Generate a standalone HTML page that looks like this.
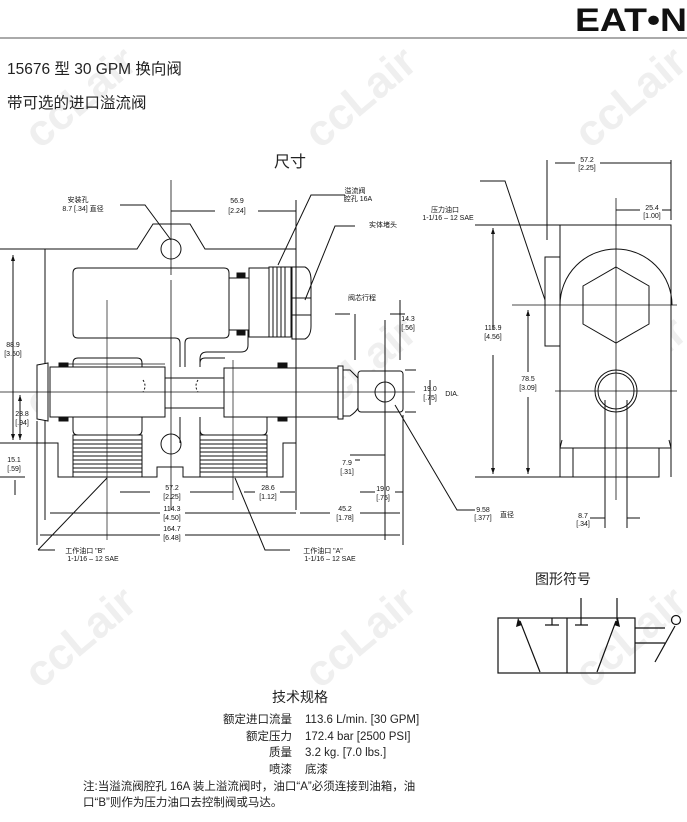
<!DOCTYPE html>
<html><head><meta charset="utf-8"><style>
html,body{margin:0;padding:0;background:#fff;}
svg{display:block;}
.t{font-family:"Liberation Sans","Noto Sans CJK SC",sans-serif;}
</style></head><body>
<svg width="687" height="822" viewBox="0 0 687 822" xmlns="http://www.w3.org/2000/svg" class="t">
<!-- watermarks -->
<g fill="#efefef" font-weight="bold" font-size="44" font-family="Liberation Sans, sans-serif">
<text transform="translate(40,150) rotate(-40)">ccLair</text>
<text transform="translate(320,150) rotate(-40)">ccLair</text>
<text transform="translate(590,150) rotate(-40)">ccLair</text>
<text transform="translate(40,420) rotate(-40)">ccLair</text>
<text transform="translate(320,420) rotate(-40)">ccLair</text>
<text transform="translate(590,420) rotate(-40)">ccLair</text>
<text transform="translate(40,690) rotate(-40)">ccLair</text>
<text transform="translate(320,690) rotate(-40)">ccLair</text>
<text transform="translate(590,690) rotate(-40)">ccLair</text>
</g>
<!-- header -->
<text x="575" y="31" font-size="32" font-weight="bold" textLength="112" lengthAdjust="spacingAndGlyphs" fill="#111">EAT•N</text>
<line x1="0" y1="38" x2="687" y2="38" stroke="#777" stroke-width="1.2"/>
<text x="7" y="74" font-size="15.5" fill="#222">15676 型 30 GPM 换向阀</text>
<text x="7" y="108" font-size="15.5" fill="#222">带可选的进口溢流阀</text>
<text x="290" y="167" font-size="16" text-anchor="middle" fill="#222">尺寸</text>

<g stroke="#111" stroke-width="1" fill="none">
<!-- main body outline -->
<path d="M45 249 L137 249 L153 224 L190 224 L205 249 L296 249 L296 443 L283 443 L283 477 L183 477 L183 467 L157 467 L157 477 L58 477 L58 443 L45 443 Z" fill="#fff"/>
<circle cx="171" cy="249" r="10"/>
<circle cx="171" cy="444" r="10"/>
<!-- T cavity -->
<path d="M185 367 V343 Q185 338 190 338 H224 Q229 338 229 333 V273 Q229 268 224 268 H78 Q73 268 73 273 V333 Q73 338 78 338 H175 Q180 338 180 343 V367"/>
<path d="M248 330 V345 Q248 352 241 352 H207 Q200 352 200 359 V367"/>
<!-- port cavities -->
<path d="M73 367 V363 Q73 358 78 358 H137 Q142 358 142 363 V367"/>
<path d="M73 417 V430 Q73 435 78 435 H137 Q142 435 142 430 V417"/>
<path d="M180 417 V443 M200 417 V443"/>
<path d="M200 367 V363 Q200 358 205 358 H225"/>
<path d="M200 417 V430 Q200 435 205 435 H262 Q267 435 267 430 V417"/>
<!-- threads -->
<rect x="73" y="435" width="69" height="42" fill="#fff"/>
<rect x="200" y="435" width="67" height="42" fill="#fff"/>
<path d="M73 440H142M73 444H142M73 448H142M73 452H142M73 456H142M73 460H142M73 464H142M73 468H142M73 472H142"/>
<path d="M200 440H267M200 444H267M200 448H267M200 452H267M200 456H267M200 460H267M200 464H267M200 468H267M200 472H267"/>
<!-- spool -->
<rect x="50" y="367" width="115" height="50" fill="#fff"/>
<path d="M37 365 L48 363 V421 L37 419 Z" fill="#fff"/>
<rect x="165" y="378" width="59" height="30" fill="#fff"/>
<rect x="224" y="368" width="114" height="49" fill="#fff"/>
<rect x="338" y="366" width="5" height="53" fill="#fff"/>
<path d="M343 370 H350 Q356 376 358 378 V408 Q356 412 350 416 H343"/>
<rect x="358" y="371" width="45" height="41" rx="3" fill="#fff"/>
<circle cx="385" cy="392" r="10"/>
<path d="M143 380 q4 6 0 12 M198 380 q-4 6 0 12" stroke-dasharray="2 2"/>
<!-- seals -->
<g fill="#111"><rect x="59" y="363" width="9" height="4"/><rect x="59" y="417" width="9" height="4"/><rect x="278" y="363" width="9" height="4"/><rect x="278" y="417" width="9" height="4"/><rect x="237" y="273" width="8" height="5"/><rect x="237" y="330" width="8" height="5"/></g>
<!-- relief valve -->
<rect x="229" y="278" width="20" height="52" fill="#fff"/>
<rect x="249" y="268" width="20" height="69" fill="#fff"/>
<rect x="269" y="267" width="22" height="70" fill="#fff"/>
<path d="M273 267V337M277 267V337M281 267V337M285 267V337"/>
<path d="M292 267 H305 Q311 270 311 280 V326 Q311 336 305 339 H292 Z" fill="#fff"/>
<path d="M292 298 H311 M292 315 H311"/>
<!-- centerlines -->
<path d="M0 392 H415" stroke-width="0.8"/>
<path d="M171 180 V275 M171 280 V510" stroke-width="0.8"/>
<path d="M107 300 V540 M233 360 V500 M65 364 H165" stroke-width="0.7"/>
<!-- dimension lines -->
<path d="M0 249 H45 M0 443 H45 M0 477 H25 M13 255 V440 M20 395 V440 M15 480 V495"/>
<path d="M296 200 V510 M171 211 H215 M258 211 H296"/>
<path d="M45 440 V520 M37 421 V545 M403 415 V545"/>
<path d="M120 492 H150 M190 492 H233 M244 492 H255 M280 492 H295"/>
<path d="M50 513 H160 M185 513 H296 M300 513 H330 M360 513 H400"/>
<path d="M40 535 H160 M185 535 H400"/>
<path d="M385 320 V540 M355 460 H360 M350 455 H385 M360 492 H375 M395 492 H403 M385 480 V500"/>
<path d="M335 314 H350 M355 314 V360 M390 314 H405 M400 300 V360"/>
<path d="M405 370 H416 M405 412 H416 M430 380 V405"/>
<!-- leaders -->
<path d="M120 205 H145 L171 240"/>
<path d="M345 195 H311 L278 265"/>
<path d="M355 226 H335 L305 300"/>
<path d="M38 550 L107 478 M38 550 H55"/>
<path d="M235 478 L265 550 H290"/>
<path d="M395 405 L457 510 H475"/>

<!-- side view -->
<rect x="560" y="225" width="111" height="223" fill="#fff"/>
<path d="M560 448 V477 M671 448 V477 M573 448 V477 H659 V448" />
<path d="M562 440 L560 448 M669 440 L671 448"/>
<rect x="545" y="257" width="15" height="89" fill="#fff"/>
<path d="M560 305 A56 56 0 0 1 672 305"/>
<polygon points="616,267 649,286 649,324 616,343 583,324 583,286"/>
<circle cx="616" cy="391" r="21"/>
<circle cx="616" cy="391" r="18"/>
<path d="M512 305 H677 M555 391 H677 M616 198 V500" stroke-width="0.8"/>
<path d="M547 160 V240 M671 160 V220 M555 163 H575 M600 163 H671 M616 210 H640 M662 210 H671"/>
<path d="M475 225 H560 M475 477 H573 M493 228 V330 M493 355 V474 M528 310 V372 M528 397 V474"/>
<path d="M605 400 V528 M627 400 V528 M590 518 H605 M627 518 H640"/>
<path d="M480 181 H505 L545 300"/>
</g>
<g fill="#111" stroke="none">
<path d="M13 255 l-2 6 h4z M13 440 l-2 -6 h4z M20 395 l-2 6 h4z M20 440 l-2 -6 h4z"/>
<path d="M493 228 l-2 6 h4z M493 474 l-2 -6 h4z M528 310 l-2 6 h4z M528 474 l-2 -6 h4z"/>
</g>
<!-- labels -->
<g font-size="7" fill="#111" text-anchor="middle">
<text x="78" y="202">安装孔</text><text x="83" y="211">8.7 [.34] 直径</text>
<text x="237" y="203">56.9</text><text x="237" y="213">[2.24]</text>
<text x="355" y="193">溢流阀</text><text x="358" y="201">腔孔 16A</text>
<text x="383" y="227">实体堵头</text>
<text x="362" y="300">阀芯行程</text>
<text x="408" y="321">14.3</text><text x="408" y="330">[.56]</text>
<text x="13" y="347">88.9</text><text x="13" y="356">[3.50]</text>
<text x="22" y="416">23.8</text><text x="22" y="425">[.94]</text>
<text x="14" y="462">15.1</text><text x="14" y="471">[.59]</text>
<text x="430" y="391">19.0</text><text x="430" y="400">[.75]</text><text x="452" y="396">DIA.</text>
<text x="347" y="465">7.9</text><text x="347" y="474">[.31]</text>
<text x="383" y="491">19.0</text><text x="383" y="500">[.75]</text>
<text x="172" y="490">57.2</text><text x="172" y="499">[2.25]</text>
<text x="268" y="490">28.6</text><text x="268" y="499">[1.12]</text>
<text x="172" y="511">114.3</text><text x="172" y="520">[4.50]</text>
<text x="345" y="511">45.2</text><text x="345" y="520">[1.78]</text>
<text x="172" y="531">164.7</text><text x="172" y="540">[6.48]</text>
<text x="85" y="553">工作油口 "B"</text><text x="93" y="561">1-1/16 – 12 SAE</text>
<text x="323" y="553">工作油口 "A"</text><text x="330" y="561">1-1/16 – 12 SAE</text>
<text x="483" y="512">9.58</text><text x="483" y="520">[.377]</text><text x="507" y="517">直径</text>
<text x="445" y="212">压力油口</text><text x="448" y="220">1-1/16 – 12 SAE</text>
<text x="587" y="162">57.2</text><text x="587" y="170">[2.25]</text>
<text x="652" y="210">25.4</text><text x="652" y="218">[1.00]</text>
<text x="493" y="330">115.9</text><text x="493" y="339">[4.56]</text>
<text x="528" y="381">78.5</text><text x="528" y="390">[3.09]</text>
<text x="583" y="518">8.7</text><text x="583" y="526">[.34]</text>
</g>

<!-- symbol -->
<text x="563" y="584" font-size="14" text-anchor="middle" fill="#222">图形符号</text>
<g stroke="#111" stroke-width="1.2" fill="none">
<rect x="498" y="618" width="137" height="55"/>
<path d="M567 618 V673"/>
<path d="M540 672 L520 621 M597 672 L616 621"/>
<path d="M581 598 V625 M575 625 H588 M617 598 V620"/>
<path d="M545 625 H559 M552 618 V625"/>
<path d="M635 628 H665 M635 643 H665 M655 662 L675 626"/>
<circle cx="676" cy="620" r="4.5"/>
</g>
<g fill="#111"><path d="M518 618 l-2 9 l6 -2z M618 618 l2 9 l-6 -2z"/></g>

<!-- specs -->
<text x="300" y="702" font-size="14" text-anchor="middle" fill="#222">技术规格</text>
<g font-size="11.5" fill="#222">
<text x="292" y="723" text-anchor="end">额定进口流量</text><text x="305" y="723">113.6 L/min. [30 GPM]</text>
<text x="292" y="740" text-anchor="end">额定压力</text><text x="305" y="740">172.4 bar [2500 PSI]</text>
<text x="292" y="756" text-anchor="end">质量</text><text x="305" y="756">3.2 kg. [7.0 lbs.]</text>
<text x="292" y="773" text-anchor="end">喷漆</text><text x="305" y="773">底漆</text>
<text x="83" y="790">注:当溢流阀腔孔 16A 装上溢流阀时，油口“A”必须连接到油箱，油</text>
<text x="83" y="806">口“B”则作为压力油口去控制阀或马达。</text>
</g>
</svg>
</body></html>
